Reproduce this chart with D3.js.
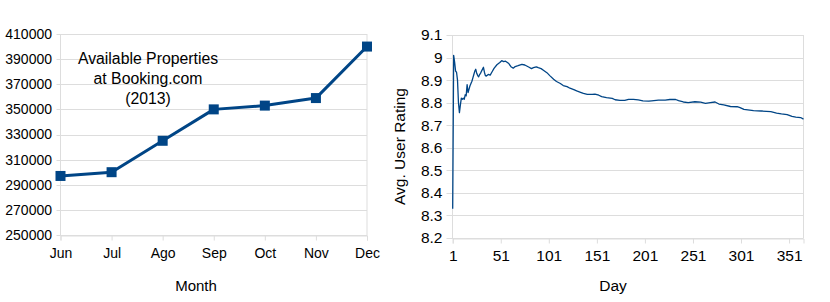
<!DOCTYPE html>
<html>
<head>
<meta charset="utf-8">
<script src="https://cdn.jsdelivr.net/npm/d3@7"></script>
<style>
  html, body { margin: 0; padding: 0; background: #fff; }
  svg { display: block; font-family: "Liberation Sans", Arial, sans-serif; }
</style>
</head>
<body>
<svg id="chart" width="830" height="302"></svg>
<script>
// ---------- Data: left chart ----------
const months = ["Jun", "Jul", "Ago", "Sep", "Oct", "Nov", "Dec"];
const properties = [297000, 300000, 325000, 350000, 353000, 359000, 400000];
const propTicks = [250000, 270000, 290000, 310000, 330000, 350000, 370000, 390000, 410000];
const leftTitleLines = ["Available Properties", "at Booking.com", "(2013)"];

// ---------- Data: right chart ----------
const days = [1, 2, 3, 4, 5, 6, 7, 8, 9, 10, 11, 12, 13, 14, 15, 16, 17, 18, 19, 20,
  21, 22, 23, 24, 25, 26, 27, 28, 29, 30, 31, 33, 34, 35, 36, 38, 40, 42, 44, 47,
  50, 52, 54, 56, 59, 62, 64, 66, 69, 73, 76, 80, 83, 85, 88, 90, 93, 95, 99, 102,
  106, 109, 113, 116, 120, 123, 127, 130, 134, 137, 141, 146, 149, 153, 156, 161, 167, 170, 175, 180,
  184, 189, 194, 199, 205, 208, 215, 222, 227, 233, 236, 241, 246, 253, 259, 264, 269, 274, 278, 283,
  290, 297, 300, 304, 314, 322, 332, 338, 343, 349, 354, 358, 363, 366];
const ratings = [8.33, 9.01, 8.98, 8.94, 8.935, 8.90, 8.80, 8.756, 8.79, 8.82, 8.815, 8.82, 8.815, 8.835, 8.83, 8.88, 8.845, 8.86, 8.875, 8.885,
  8.895, 8.91, 8.925, 8.94, 8.948, 8.93, 8.92, 8.915, 8.925, 8.93, 8.94, 8.957, 8.935, 8.92, 8.918, 8.925, 8.922, 8.937, 8.952, 8.968,
  8.978, 8.986, 8.982, 8.984, 8.975, 8.958, 8.953, 8.96, 8.964, 8.97, 8.967, 8.958, 8.951, 8.955, 8.959, 8.955, 8.951, 8.945, 8.933, 8.92,
  8.904, 8.894, 8.885, 8.876, 8.871, 8.864, 8.858, 8.852, 8.846, 8.841, 8.837, 8.837, 8.838, 8.833, 8.827, 8.822, 8.819, 8.813, 8.81, 8.81,
  8.815, 8.815, 8.812, 8.808, 8.807, 8.808, 8.811, 8.811, 8.814, 8.814, 8.809, 8.803, 8.80, 8.804, 8.802, 8.797, 8.80, 8.803, 8.794, 8.79,
  8.783, 8.782, 8.778, 8.77, 8.765, 8.763, 8.76, 8.754, 8.75, 8.747, 8.739, 8.736, 8.734, 8.727];
const dayTicks = [1, 51, 101, 151, 201, 251, 301, 351];
const ratingTicks = [8.2, 8.3, 8.4, 8.5, 8.6, 8.7, 8.8, 8.9, 9.0, 9.1];

const BLUE = "#004586";
const GRID = "#dddddd";
const svg = d3.select("#chart");

// ================= Left chart =================
{
  const x = d3.scalePoint().domain(months).range([60.5, 367]);
  const y = d3.scaleLinear().domain([250000, 410000]).range([235, 34]);
  const g = svg.append("g");

  g.append("g").selectAll("line").data(propTicks).join("line")
    .attr("x1", 56.5).attr("x2", 367)
    .attr("y1", d => Math.round(y(d)) + 0.5).attr("y2", d => Math.round(y(d)) + 0.5)
    .attr("stroke", GRID).attr("stroke-width", 1);
  [60.5, 367].forEach(xx => g.append("line").attr("x1", xx).attr("x2", xx)
    .attr("y1", y(410000)).attr("y2", y(250000)).attr("stroke", GRID));

  const xAxis = d3.axisBottom(x).tickSize(5).tickPadding(8);
  const ax = g.append("g").attr("transform", `translate(0,${Math.round(y(250000)) + 0.5})`).call(xAxis);
  ax.select(".domain").attr("stroke", GRID);
  ax.selectAll(".tick line").attr("stroke", GRID);
  ax.selectAll("text").attr("font-size", 14).attr("fill", "#000")
    .attr("font-family", "Liberation Sans, Arial, sans-serif");

  g.append("g").selectAll("text").data(propTicks).join("text")
    .attr("x", 52).attr("y", d => y(d)).attr("dy", "0.35em")
    .attr("text-anchor", "end").attr("font-size", 14).attr("fill", "#000")
    .text(d => d);

  const line = d3.line().x((d, i) => x(months[i])).y(d => y(d));
  g.append("path").datum(properties).attr("d", line)
    .attr("fill", "none").attr("stroke", BLUE).attr("stroke-width", 3).attr("stroke-linejoin", "round");
  g.append("g").selectAll("rect").data(properties).join("rect")
    .attr("x", (d, i) => x(months[i]) - 5).attr("y", d => y(d) - 5)
    .attr("width", 10).attr("height", 10).attr("fill", BLUE);

  g.append("g").selectAll("text").data(leftTitleLines).join("text")
    .attr("x", 148).attr("y", (d, i) => 64 + i * 20)
    .attr("text-anchor", "middle").attr("font-size", 15.8).attr("fill", "#000")
    .text(d => d);

  g.append("text").attr("x", 196).attr("y", 290.5).attr("text-anchor", "middle")
    .attr("font-size", 15).attr("fill", "#000").text("Month");
}

// ================= Right chart =================
{
  const x = d3.scaleLinear().domain([1, 366]).range([452.7, 803.5]);
  const y = d3.scaleLinear().domain([8.2, 9.1]).range([238, 35]);
  const g = svg.append("g");

  g.append("g").selectAll("line").data(ratingTicks).join("line")
    .attr("x1", 446.5).attr("x2", 803.5)
    .attr("y1", d => Math.round(y(d)) + 0.5).attr("y2", d => Math.round(y(d)) + 0.5)
    .attr("stroke", GRID).attr("stroke-width", 1);
  [452.5, 803.5].forEach(xx => g.append("line").attr("x1", xx).attr("x2", xx)
    .attr("y1", y(9.1)).attr("y2", y(8.2)).attr("stroke", GRID));

  const xAxis = d3.axisBottom(x).tickValues(dayTicks).tickSize(5).tickPadding(6).tickFormat(d3.format("d"));
  const ax = g.append("g").attr("transform", `translate(0,${Math.round(y(8.2)) + 0.5})`).call(xAxis);
  ax.select(".domain").attr("stroke", GRID);
  ax.selectAll(".tick line").attr("stroke", GRID);
  ax.selectAll("text").attr("font-size", 15.5).attr("fill", "#000")
    .attr("font-family", "Liberation Sans, Arial, sans-serif");

  g.append("g").selectAll("text").data(ratingTicks).join("text")
    .attr("x", 442.5).attr("y", d => y(d)).attr("dy", "0.35em")
    .attr("text-anchor", "end").attr("font-size", 15.5).attr("fill", "#000")
    .text(d => d3.format("~g")(d));

  const line = d3.line().x((d, i) => x(days[i])).y(d => y(d));
  g.append("path").datum(ratings).attr("d", line)
    .attr("fill", "none").attr("stroke", BLUE).attr("stroke-width", 1.3).attr("stroke-linejoin", "round");

  g.append("text").attr("x", 613).attr("y", 291).attr("text-anchor", "middle")
    .attr("font-size", 15.5).attr("fill", "#000").text("Day");
  g.append("text").attr("transform", "translate(404.5,146.5) rotate(-90)")
    .attr("text-anchor", "middle").attr("font-size", 15.5).attr("fill", "#000").text("Avg. User Rating");
}
</script>
</body>
</html>
